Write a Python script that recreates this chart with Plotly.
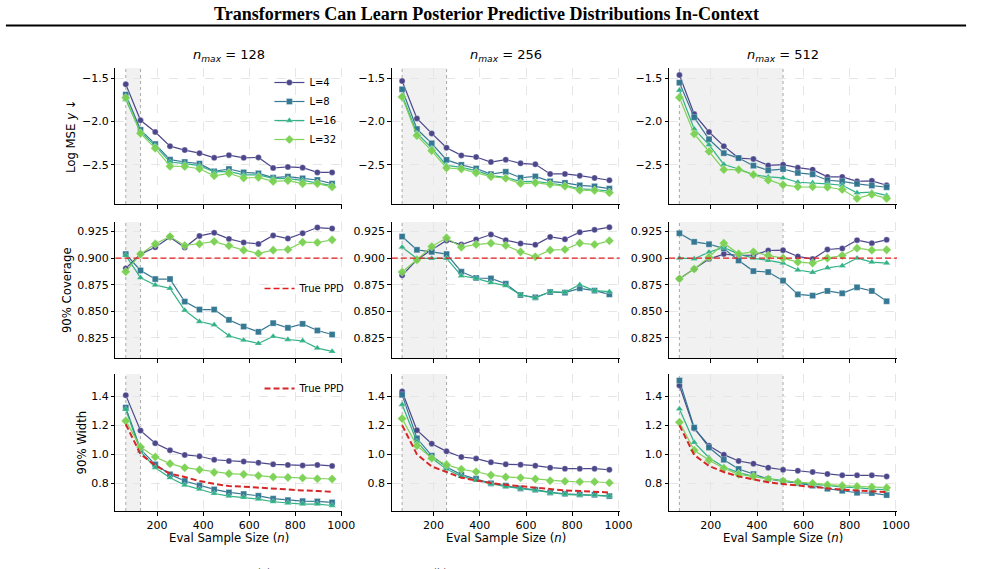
import plotly.graph_objects as go

W, H = 985, 569

# ---------------- data ----------------
X_N = [64, 128, 192, 256, 320, 384, 448, 512, 576, 640, 704, 768, 832, 896, 960]
N_MAX = [128, 256, 512]
L_LABELS = ["L=4", "L=8", "L=16", "L=32"]

# Log MSE y (row 1)
mse_128_L4 = [-1.569, -1.986, -2.121, -2.285, -2.331, -2.366, -2.420, -2.389, -2.420, -2.416, -2.538, -2.526, -2.534, -2.589, -2.589]
mse_128_L8 = [-1.688, -2.096, -2.261, -2.442, -2.469, -2.488, -2.577, -2.550, -2.589, -2.600, -2.650, -2.638, -2.658, -2.677, -2.719]
mse_128_L16 = [-1.745, -2.121, -2.282, -2.469, -2.488, -2.511, -2.584, -2.577, -2.618, -2.618, -2.658, -2.661, -2.681, -2.711, -2.742]
mse_128_L32 = [-1.725, -2.137, -2.310, -2.517, -2.521, -2.547, -2.628, -2.600, -2.654, -2.647, -2.693, -2.684, -2.719, -2.719, -2.757]

mse_256_L4 = [-1.531, -1.965, -2.138, -2.304, -2.392, -2.411, -2.469, -2.442, -2.484, -2.495, -2.607, -2.607, -2.627, -2.653, -2.680]
mse_256_L8 = [-1.627, -2.087, -2.252, -2.444, -2.502, -2.544, -2.609, -2.582, -2.651, -2.636, -2.693, -2.711, -2.739, -2.751, -2.777]
mse_256_L16 = [-1.695, -2.136, -2.308, -2.508, -2.531, -2.569, -2.627, -2.646, -2.695, -2.692, -2.715, -2.738, -2.780, -2.787, -2.807]
mse_256_L32 = [-1.715, -2.163, -2.339, -2.538, -2.549, -2.595, -2.638, -2.657, -2.718, -2.710, -2.726, -2.749, -2.795, -2.799, -2.825]

mse_512_L4 = [-1.462, -1.914, -2.121, -2.285, -2.423, -2.434, -2.508, -2.500, -2.534, -2.557, -2.641, -2.641, -2.692, -2.687, -2.738]
mse_512_L8 = [-1.550, -1.952, -2.205, -2.366, -2.423, -2.511, -2.565, -2.550, -2.595, -2.611, -2.680, -2.692, -2.722, -2.741, -2.761]
mse_512_L16 = [-1.638, -2.086, -2.270, -2.497, -2.550, -2.615, -2.641, -2.653, -2.703, -2.710, -2.722, -2.738, -2.825, -2.818, -2.856]
mse_512_L32 = [-1.722, -2.144, -2.347, -2.557, -2.557, -2.615, -2.680, -2.733, -2.756, -2.756, -2.761, -2.787, -2.890, -2.844, -2.890]

# 90% Coverage (row 2)
cov_128_L4 = [0.8903, 0.9038, 0.9103, 0.9197, 0.9100, 0.9209, 0.9238, 0.9181, 0.9147, 0.9134, 0.9213, 0.9184, 0.9234, 0.9288, 0.9278]
cov_128_L8 = [0.9038, 0.8884, 0.8803, 0.8803, 0.8591, 0.8516, 0.8516, 0.8419, 0.8356, 0.8306, 0.8388, 0.8344, 0.8381, 0.8319, 0.8281]
cov_128_L16 = [0.9025, 0.8816, 0.8747, 0.8716, 0.8509, 0.8403, 0.8372, 0.8269, 0.8228, 0.8197, 0.8263, 0.8234, 0.8222, 0.8153, 0.8122]
cov_128_L32 = [0.8872, 0.9038, 0.9134, 0.9203, 0.9119, 0.9134, 0.9156, 0.9116, 0.9075, 0.9044, 0.9075, 0.9081, 0.9150, 0.9147, 0.9172]

cov_256_L4 = [0.8838, 0.8985, 0.9078, 0.9166, 0.9128, 0.9175, 0.9222, 0.9169, 0.9138, 0.9125, 0.9200, 0.9178, 0.9244, 0.9266, 0.9291]
cov_256_L8 = [0.9203, 0.9078, 0.9059, 0.9038, 0.8872, 0.8813, 0.8809, 0.8759, 0.8653, 0.8631, 0.8681, 0.8675, 0.8716, 0.8694, 0.8659]
cov_256_L16 = [0.9103, 0.8997, 0.8997, 0.8997, 0.8834, 0.8809, 0.8769, 0.8741, 0.8653, 0.8625, 0.8684, 0.8678, 0.8750, 0.8694, 0.8684]
cov_256_L32 = [0.8869, 0.8984, 0.9109, 0.9191, 0.9103, 0.9128, 0.9141, 0.9119, 0.9059, 0.9013, 0.9075, 0.9081, 0.9141, 0.9128, 0.9163]

cov_512_L4 = [0.8806, 0.8897, 0.8991, 0.9038, 0.9025, 0.9028, 0.9072, 0.9075, 0.9016, 0.8991, 0.9081, 0.9091, 0.9169, 0.9141, 0.9172]
cov_512_L8 = [0.9234, 0.9153, 0.9131, 0.9091, 0.8978, 0.8878, 0.8869, 0.8788, 0.8659, 0.8647, 0.8691, 0.8669, 0.8725, 0.8691, 0.8594]
cov_512_L16 = [0.9000, 0.8994, 0.9056, 0.9100, 0.9038, 0.9000, 0.8978, 0.8953, 0.8888, 0.8866, 0.8909, 0.8928, 0.9000, 0.8963, 0.8953]
cov_512_L32 = [0.8806, 0.8897, 0.9009, 0.9141, 0.9041, 0.9059, 0.9025, 0.9000, 0.8963, 0.8953, 0.9000, 0.9025, 0.9094, 0.9075, 0.9078]

TARGET_COVERAGE = 0.9

# 90% Width (row 3)
wid_128_L4 = [1.407, 1.162, 1.075, 1.026, 0.994, 0.985, 0.961, 0.952, 0.948, 0.941, 0.929, 0.925, 0.922, 0.925, 0.918]
wid_128_L8 = [1.321, 1.033, 0.929, 0.860, 0.814, 0.784, 0.756, 0.735, 0.724, 0.712, 0.692, 0.682, 0.675, 0.673, 0.666]
wid_128_L16 = [1.308, 1.019, 0.906, 0.837, 0.786, 0.758, 0.728, 0.710, 0.701, 0.689, 0.671, 0.662, 0.655, 0.655, 0.645]
wid_128_L32 = [1.229, 1.049, 0.980, 0.934, 0.906, 0.892, 0.874, 0.865, 0.860, 0.851, 0.842, 0.839, 0.835, 0.830, 0.828]
wid_128_ppd = [1.206, 1.000, 0.922, 0.865, 0.842, 0.814, 0.795, 0.779, 0.775, 0.768, 0.758, 0.754, 0.749, 0.745, 0.740]

wid_256_L4 = [1.432, 1.165, 1.072, 1.019, 0.980, 0.969, 0.943, 0.929, 0.927, 0.920, 0.906, 0.899, 0.899, 0.899, 0.892]
wid_256_L8 = [1.409, 1.109, 0.989, 0.911, 0.858, 0.830, 0.798, 0.782, 0.763, 0.754, 0.735, 0.726, 0.722, 0.719, 0.710]
wid_256_L16 = [1.342, 1.086, 0.971, 0.897, 0.846, 0.818, 0.795, 0.775, 0.761, 0.749, 0.731, 0.722, 0.717, 0.717, 0.710]
wid_256_L32 = [1.245, 1.058, 0.971, 0.927, 0.895, 0.878, 0.855, 0.842, 0.837, 0.828, 0.816, 0.812, 0.809, 0.809, 0.802]
wid_256_ppd = [1.199, 0.998, 0.915, 0.874, 0.837, 0.818, 0.800, 0.788, 0.777, 0.768, 0.758, 0.749, 0.745, 0.740, 0.735]

wid_512_L4 = [1.474, 1.176, 1.058, 0.996, 0.952, 0.934, 0.906, 0.892, 0.885, 0.876, 0.862, 0.853, 0.853, 0.853, 0.846]
wid_512_L8 = [1.508, 1.183, 1.045, 0.961, 0.897, 0.862, 0.828, 0.812, 0.800, 0.782, 0.761, 0.747, 0.733, 0.731, 0.717]
wid_512_L16 = [1.312, 1.081, 0.975, 0.911, 0.872, 0.846, 0.830, 0.816, 0.802, 0.791, 0.784, 0.772, 0.768, 0.758, 0.754]
wid_512_L32 = [1.220, 1.026, 0.957, 0.902, 0.860, 0.846, 0.828, 0.814, 0.807, 0.798, 0.788, 0.782, 0.777, 0.772, 0.768]
wid_512_ppd = [1.199, 0.994, 0.918, 0.876, 0.846, 0.823, 0.805, 0.793, 0.782, 0.772, 0.763, 0.754, 0.749, 0.742, 0.738]

ROWS = [
    [[mse_128_L4, mse_128_L8, mse_128_L16, mse_128_L32],
     [mse_256_L4, mse_256_L8, mse_256_L16, mse_256_L32],
     [mse_512_L4, mse_512_L8, mse_512_L16, mse_512_L32]],
    [[cov_128_L4, cov_128_L8, cov_128_L16, cov_128_L32],
     [cov_256_L4, cov_256_L8, cov_256_L16, cov_256_L32],
     [cov_512_L4, cov_512_L8, cov_512_L16, cov_512_L32]],
    [[wid_128_L4, wid_128_L8, wid_128_L16, wid_128_L32],
     [wid_256_L4, wid_256_L8, wid_256_L16, wid_256_L32],
     [wid_512_L4, wid_512_L8, wid_512_L16, wid_512_L32]],
]
PPD_WIDTH = [wid_128_ppd, wid_256_ppd, wid_512_ppd]

X_TICKS = [200, 400, 600, 800, 1000]
Y_TICKS = [[-2.5, -2.0, -1.5], [0.825, 0.85, 0.875, 0.9, 0.925], [0.8, 1.0, 1.2, 1.4]]
Y_FMT = [".1f", ".3f", ".1f"]
Y_LABELS = ["Log MSE <i>y</i> ↓", "90% Coverage", "90% Width"]

# ---------------- style / layout ----------------
COLORS = ["#433e85", "#2c728e", "#28ae80", "#7ad151"]
SYMBOLS = ["circle", "square", "triangle-up", "diamond"]
MSIZE = [6, 6, 6.5, 7]
RED = "#d62728"
COV_RED = "#e41a1c"
FONT = "DejaVu Sans"

COL_PX = [(117, 347), (397, 628), (678, 909)]
ROW_PX = [(68, 204), (222, 358), (374, 511)]
Y_RANGES = [[-2.955, -1.38], [0.806, 0.934], [0.607, 1.553]]
X_RANGE = [19.2, 1004.8]
YLABEL_X = [72, 68, 83]


def px_x(v):
    return v / W


def px_y(v):
    return 1 - v / H


fig = go.Figure()
layout = dict(
    width=W, height=H,
    margin=dict(l=0, r=0, t=0, b=0),
    paper_bgcolor="white", plot_bgcolor="white",
    font=dict(family=FONT, size=11, color="black"),
    showlegend=True,
)
shapes = []
annotations = []
ppd_traces = []

for r in range(3):
    for c in range(3):
        k = r * 3 + c + 1
        xn = "x" if k == 1 else f"x{k}"
        yn = "y" if k == 1 else f"y{k}"
        xa = "xaxis" if k == 1 else f"xaxis{k}"
        ya = "yaxis" if k == 1 else f"yaxis{k}"
        layout[xa] = dict(
            domain=[px_x(COL_PX[c][0]), px_x(COL_PX[c][1])],
            anchor=yn, range=X_RANGE, tickvals=X_TICKS,
            showticklabels=(r == 2), ticks="outside", ticklen=3.5, tickwidth=0.8,
            tickcolor="black", showline=True, linecolor="black", linewidth=1.1,
            showgrid=True, gridcolor="#e6e6e6", griddash="dash", gridwidth=0.8,
            zeroline=False, tickfont=dict(size=11, family=FONT),
        )
        layout[ya] = dict(
            domain=[px_y(ROW_PX[r][1]), px_y(ROW_PX[r][0])],
            anchor=xn, range=Y_RANGES[r], tickvals=Y_TICKS[r], tickformat=Y_FMT[r],
            showticklabels=True, ticks="outside", ticklen=3.5, tickwidth=0.8,
            tickcolor="black", showline=True, linecolor="black", linewidth=1.1,
            showgrid=True, gridcolor="#e6e6e6", griddash="dash", gridwidth=0.8,
            zeroline=False, tickfont=dict(size=11, family=FONT),
        )
        # shaded training region
        shapes.append(dict(type="rect", xref=xn, yref=f"{yn} domain",
                           x0=X_N[0], x1=N_MAX[c], y0=0, y1=1,
                           fillcolor="#f1f1f1", line=dict(width=0), layer="below"))
        for xv in (X_N[0], N_MAX[c]):
            shapes.append(dict(type="line", xref=xn, yref=f"{yn} domain",
                               x0=xv, x1=xv, y0=0, y1=1,
                               line=dict(color="#b0b0b0", width=1.1, dash="dot"), layer="below"))
        if r == 1:
            shapes.append(dict(type="line", xref=f"{xn} domain", yref=yn,
                               x0=0, x1=1, y0=TARGET_COVERAGE, y1=TARGET_COVERAGE,
                               line=dict(color=COV_RED, width=1.4, dash="6px,3px"), layer="above"))
            if c == 0:
                fig.add_trace(go.Scatter(
                    x=[None], y=[None], mode="lines", name="True PPD",
                    line=dict(color=COV_RED, width=1.4, dash="6px,3px"),
                    xaxis=xn, yaxis=yn, legend="legend2", showlegend=True))
        for i in range(4):
            fig.add_trace(go.Scatter(
                x=X_N, y=ROWS[r][c][i], mode="lines+markers", name=L_LABELS[i],
                line=dict(color=COLORS[i], width=1.2),
                marker=dict(symbol=SYMBOLS[i], size=MSIZE[i], color=COLORS[i],
                            line=dict(width=0.6, color="rgba(255,255,255,0.5)")),
                opacity=0.95,
                xaxis=xn, yaxis=yn, legend="legend",
                showlegend=(r == 0 and c == 0)))
        if r == 2:
            ppd_traces.append(go.Scatter(
                x=X_N, y=PPD_WIDTH[c], mode="lines", name="True PPD",
                line=dict(color=RED, width=2.0, dash="6px,3px"),
                xaxis=xn, yaxis=yn, legend="legend3", showlegend=(c == 0)))

for t in ppd_traces:
    fig.add_trace(t)

# subplot titles and x labels
for c in range(3):
    cx = (COL_PX[c][0] + COL_PX[c][1]) / 2
    annotations.append(dict(
        text=f"<i>n</i><sub><i>max</i></sub> = {N_MAX[c]}", x=px_x(cx), y=px_y(56),
        xref="paper", yref="paper", showarrow=False, xanchor="center", yanchor="middle",
        font=dict(family=FONT, size=13)))
    annotations.append(dict(
        text="Eval Sample Size (<i>n</i>)", x=px_x(cx), y=px_y(538),
        xref="paper", yref="paper", showarrow=False, xanchor="center", yanchor="middle",
        font=dict(family=FONT, size=11.7)))

for r in range(3):
    cy = (ROW_PX[r][0] + ROW_PX[r][1]) / 2
    annotations.append(dict(
        text=Y_LABELS[r], x=px_x(YLABEL_X[r]), y=px_y(cy), textangle=-90,
        xref="paper", yref="paper", showarrow=False, xanchor="center", yanchor="middle",
        font=dict(family=FONT, size=11.7)))

# figure title and rule
annotations.append(dict(
    text="<b>Transformers Can Learn Posterior Predictive Distributions In-Context</b>",
    x=px_x(493), y=px_y(14), xref="paper", yref="paper", showarrow=False,
    xanchor="center", yanchor="middle",
    font=dict(family="Liberation Serif", size=18, color="black")))
shapes.append(dict(type="line", xref="paper", yref="paper",
                   x0=px_x(6), x1=px_x(979), y0=px_y(25.5), y1=px_y(25.5),
                   line=dict(color="black", width=2.2)))

# sub-captions cropped at the bottom edge (as in the reference)
for cx, lab in ((268, "(a)"), (446, "(b)")):
    annotations.append(dict(text=lab, x=px_x(cx), y=px_y(572), xref="paper", yref="paper",
                            showarrow=False, xanchor="center", yanchor="middle",
                            font=dict(family=FONT, size=10, color="#555")))

layout["shapes"] = shapes
layout["annotations"] = annotations
layout["legend"] = dict(x=px_x(273), y=px_y(68), xanchor="left", yanchor="top",
                        bgcolor="rgba(0,0,0,0)", font=dict(family=FONT, size=10),
                        itemwidth=30, tracegroupgap=0)
layout["legend2"] = dict(x=px_x(263), y=px_y(274), xanchor="left", yanchor="top",
                         bgcolor="rgba(0,0,0,0)", font=dict(family=FONT, size=10))
layout["legend3"] = dict(x=px_x(263), y=px_y(374), xanchor="left", yanchor="top",
                         bgcolor="rgba(0,0,0,0)", font=dict(family=FONT, size=10))
fig.update_layout(**layout)

fig.write_html("out.html")
